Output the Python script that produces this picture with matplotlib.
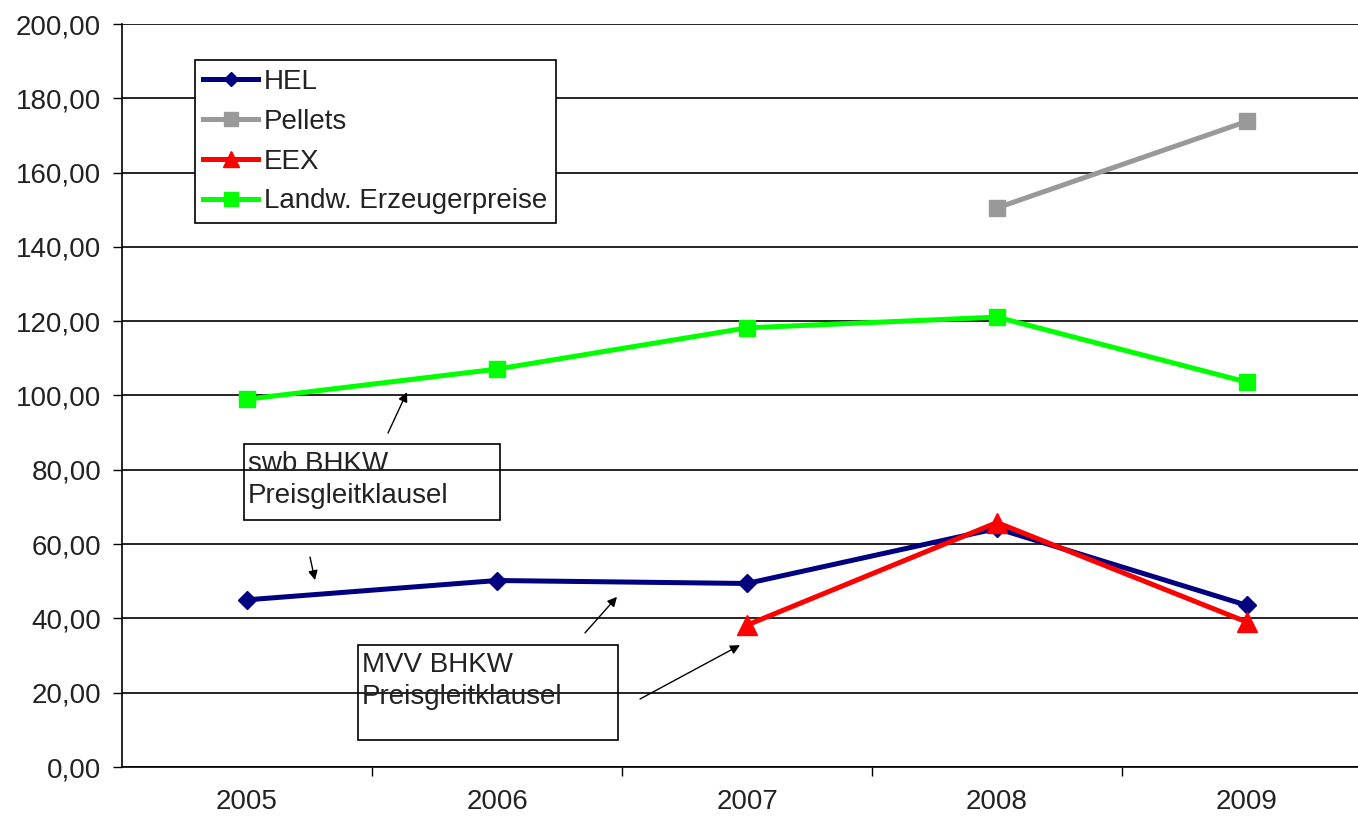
import matplotlib
matplotlib.use('Agg')
import matplotlib.pyplot as plt
from matplotlib.patches import Rectangle
from matplotlib.ticker import FuncFormatter

plt.rcParams['font.family'] = ['Liberation Sans', 'DejaVu Sans']

# Preisindizes je Jahr
jahre = ['2005', '2006', '2007', '2008', '2009']
hel = [45.0, 50.2, 49.4, 64.2, 43.5]
pellets = [None, None, None, 150.5, 173.8]
eex = [None, None, 38.2, 65.8, 39.0]
landw = [99.0, 107.1, 118.2, 121.1, 103.6]

def punkte(werte):
    xs = [i for i, v in enumerate(werte) if v is not None]
    ys = [v for v in werte if v is not None]
    return xs, ys

fig = plt.figure(figsize=(13.58, 8.21), dpi=100)
ax = fig.add_axes([122 / 1358, 54 / 821, 1250 / 1358, 743 / 821])

x, y = punkte(hel)
ax.plot(x, y, color='#000080', lw=3.6, marker='D', ms=9, label='HEL', zorder=3)
x, y = punkte(pellets)
ax.plot(x, y, color='#999999', lw=3.6, marker='s', ms=12, label='Pellets', zorder=3)
x, y = punkte(eex)
ax.plot(x, y, color='#ff0000', lw=3.6, marker='^', ms=14, label='EEX', zorder=4)
x, y = punkte(landw)
ax.plot(x, y, color='#00ff00', lw=3.6, marker='s', ms=12, label='Landw. Erzeugerpreise', zorder=3)

ax.set_xlim(-0.5, 4.5)
ax.set_ylim(0, 200)
ax.set_yticks(range(0, 201, 20))
ax.yaxis.set_major_formatter(FuncFormatter(lambda v, p: f'{v:.2f}'.replace('.', ',')))
ax.set_xticks(range(5))
ax.set_xticklabels(jahre)
ax.set_xticks([0.5, 1.5, 2.5, 3.5], minor=True)
ax.tick_params(axis='x', which='major', length=0, pad=16, labelsize=20, labelcolor='#222222')
ax.tick_params(axis='x', which='minor', length=6.5, width=1, direction='out')
ax.tick_params(axis='y', length=6.5, width=1, direction='out', pad=8.6, labelsize=20, labelcolor='#222222')

ax.grid(axis='y', color='black', lw=1.2)
ax.set_axisbelow(True)
for s in ['top', 'right']:
    ax.spines[s].set_visible(False)
ax.spines['left'].set_linewidth(1.2)
ax.spines['bottom'].set_linewidth(1.2)

leg = ax.legend(loc='upper left', bbox_to_anchor=(0.058, 0.951), fontsize=20,
                frameon=True, fancybox=False, edgecolor='black', framealpha=1,
                borderaxespad=0, handlelength=2.0, handletextpad=0.2,
                labelspacing=0.5, borderpad=0.3, markerscale=0.8)
leg.get_frame().set_linewidth(1.2)
for t in leg.get_texts():
    t.set_color('#222222')

# Textfelder mit Pfeilen
ax.add_patch(Rectangle((-0.012, 66.5), 1.024, 20.4, fill=False, ec='black', lw=1.2, zorder=5))
ax.text(0.004, 85.0, 'swb BHKW\nPreisgleitklausel', fontsize=20, color='#222222',
        va='top', ha='left', linespacing=1.3, zorder=6)
ax.add_patch(Rectangle((0.444, 7.3), 1.04, 25.5, fill=False, ec='black', lw=1.2, zorder=5))
ax.text(0.46, 31.0, 'MVV BHKW\nPreisgleitklausel', fontsize=20, color='#222222',
        va='top', ha='left', linespacing=1.3, zorder=6)

pfeile = [((0.564, 89.9), (0.64, 100.9)),
          ((0.252, 56.5), (0.272, 50.3)),
          ((1.352, 36.1), (1.48, 45.8)),
          ((1.572, 18.3), (1.972, 32.8))]
for start, ziel in pfeile:
    ax.annotate('', xy=ziel, xytext=start,
                arrowprops=dict(arrowstyle='-|>', color='black', lw=1.0,
                                mutation_scale=14, shrinkA=0, shrinkB=0), zorder=6)

fig.savefig('out.png', dpi=100)
